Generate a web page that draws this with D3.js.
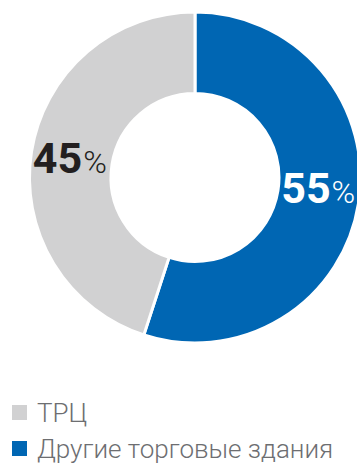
<!DOCTYPE html>
<html>
<head>
<meta charset="utf-8">
<script src="https://cdn.jsdelivr.net/npm/d3@7"></script>
<style>
  html, body { margin: 0; padding: 0; background: #fff; }
  svg { display: block; }
</style>
</head>
<body>
<svg id="chart" width="357" height="463"></svg>
<script>
// Share of retail space by building type
const categories = ["Другие торговые здания", "ТРЦ"];
const values = [55, 45];
const colors = ["#0066b3", "#d1d1d2"];
const legendOrder = ["ТРЦ", "Другие торговые здания"];

const width = 357, height = 463;
const cx = 195, cy = 177.5;
const outerR = 165.5, innerR = 84;

const svg = d3.select("#chart");
const color = d3.scaleOrdinal().domain(categories).range(colors);

const pie = d3.pie().sort(null).value(d => d.value);
const arcs = pie(categories.map((c, i) => ({ name: c, value: values[i] })));
const arc = d3.arc().innerRadius(innerR).outerRadius(outerR);
const labelArc = d3.arc().innerRadius((innerR + outerR) / 2).outerRadius((innerR + outerR) / 2);

const g = svg.append("g").attr("transform", `translate(${cx},${cy})`);

g.selectAll("path.slice")
  .data(arcs)
  .join("path")
  .attr("class", "slice")
  .attr("d", arc)
  .attr("fill", d => color(d.data.name))
  .attr("stroke", "#fff")
  .attr("stroke-width", 3);

// Percent labels inside the ring
const labelStyle = {
  "Другие торговые здания": { fill: "#fff", dy: -9, dx: 0 },
  "ТРЦ": { fill: "#231f20", dy: 0, dx: -2 }
};

const labels = g.selectAll("text.pct")
  .data(arcs)
  .join("text")
  .attr("class", "pct")
  .attr("transform", d => {
    const [x, y] = labelArc.centroid(d);
    const s = labelStyle[d.data.name];
    return `translate(${x + s.dx},${y + s.dy})`;
  })
  .attr("text-anchor", "middle")
  .attr("dy", "15")
  .attr("fill", d => labelStyle[d.data.name].fill)
  .style("font-family", "Roboto, sans-serif");

labels.append("tspan")
  .style("font-size", "43px")
  .style("font-weight", 700)
  .text(d => d.data.value);
labels.append("tspan")
  .attr("dx", 1)
  .style("font-size", "32px")
  .style("font-weight", 300)
  .text("%");

// Legend
const legend = svg.append("g").attr("transform", "translate(12,405)");
const items = legend.selectAll("g.item")
  .data(legendOrder)
  .join("g")
  .attr("class", "item")
  .attr("transform", (d, i) => `translate(0,${i * 36})`);

items.append("rect")
  .attr("width", 15)
  .attr("height", 15)
  .attr("fill", d => color(d));

items.append("text")
  .attr("x", 25)
  .attr("y", 17)
  .attr("fill", "#6d6e71")
  .style("font-family", "Roboto, sans-serif")
  .style("font-size", "26px")
  .style("font-weight", 300)
  .text(d => d);
</script>
</body>
</html>
